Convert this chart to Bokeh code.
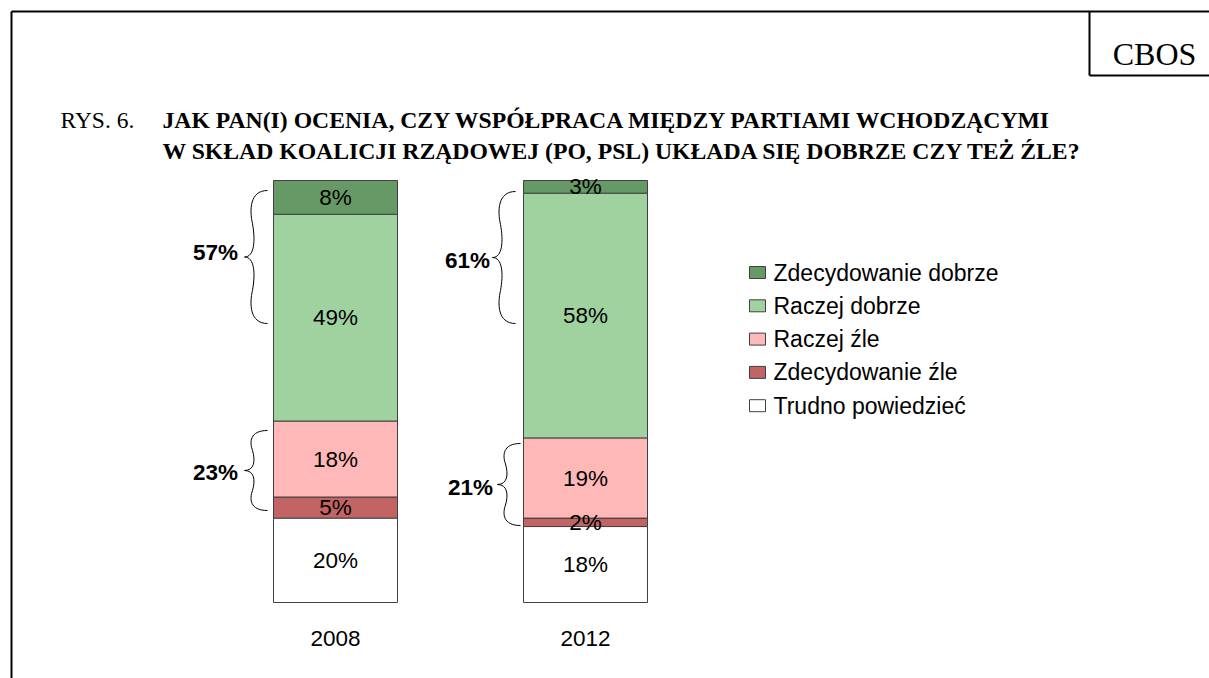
from bokeh.plotting import figure
from bokeh.models import Range1d, ColumnDataSource
from bokeh.embed import file_html
from bokeh.resources import INLINE
from bokeh.core.properties import value

# ---------------- data ----------------
years = ["2008", "2012"]
categories = ["Zdecydowanie dobrze", "Raczej dobrze", "Raczej źle",
              "Zdecydowanie źle", "Trudno powiedzieć"]
zdecydowanie_dobrze = [8, 3]
raczej_dobrze = [49, 58]
raczej_zle = [18, 19]
zdecydowanie_zle = [5, 2]
trudno_powiedziec = [20, 18]
colors = ["#669966", "#A0D2A0", "#FFB8B8", "#C26464", "#FFFFFF"]

title_prefix = "RYS. 6."
title_lines = ["JAK PAN(I) OCENIA, CZY WSPÓŁPRACA MIĘDZY PARTIAMI WCHODZĄCYMI",
               "W SKŁAD KOALICJI RZĄDOWEJ (PO, PSL) UKŁADA SIĘ DOBRZE CZY TEŻ ŹLE?"]
source_label = "CBOS"

# ---------------- layout helpers (page pixels -> data) ----------------
W, H = 1209, 678
OX, OY = 0, 0
PX_PER_PCT = 4.22
BASE_Y = 602.0


def dy(Y):
    return (BASE_Y - Y) / PX_PER_PCT


bar_x = [335, 585]
bar_w = 124

SANS = value("Liberation Sans")
SERIF = value("Liberation Serif")

p = figure(width=W, height=H, x_range=Range1d(OX, OX + W),
           y_range=Range1d(dy(OY + H), dy(OY)),
           output_backend="svg", toolbar_location=None, min_border=0,
           x_axis_location=None, y_axis_location=None,
           outline_line_color=None, background_fill_color="white")
p.xgrid.visible = False
p.ygrid.visible = False

# ---------------- stacked bars ----------------
keys = ["tp", "zz", "rz", "rd", "zd"]
series = [trudno_powiedziec, zdecydowanie_zle, raczej_zle, raczej_dobrze, zdecydowanie_dobrze]
src = ColumnDataSource(dict(x=bar_x, tp=trudno_powiedziec, zz=zdecydowanie_zle,
                            rz=raczej_zle, rd=raczej_dobrze, zd=zdecydowanie_dobrze))
stack_colors = [colors[4], colors[3], colors[2], colors[1], colors[0]]
p.vbar_stack(keys, x="x", width=bar_w, fill_color=stack_colors,
             line_color="#404040", line_width=1, source=src)

# segment labels
lx, ly, lt = [], [], []
for i in range(len(years)):
    cum = 0
    for s in series:
        v = s[i]
        lx.append(bar_x[i])
        ly.append(cum + v / 2)
        lt.append(f"{v}%")
        cum += v
p.text(x=lx, y=ly, text=lt, text_font=SANS, text_font_size="22.5px",
       text_align="center", text_baseline="middle", text_color="black")

# year labels
p.text(x=bar_x, y=[dy(638)] * 2, text=years, text_font=SANS, text_font_size="22.5px",
       text_align="center", text_baseline="middle", text_color="black")

# ---------------- braces ----------------
def brace(xe, xs, xt, yt, yb):
    ym = (yt + yb) / 2
    h = ym - yt
    segs = [
        ((xe, yt), (xs - 3, yt), (xs - 3, yt + 0.3 * h), (xs, yt + 0.5 * h)),
        ((xs, yt + 0.5 * h), (xs + 3, yt + 0.75 * h), (xs + 2, ym), (xt, ym)),
        ((xt, ym), (xs + 2, ym), (xs + 3, ym + 0.25 * h), (xs, ym + 0.5 * h)),
        ((xs, ym + 0.5 * h), (xs - 3, ym + 0.7 * h), (xs - 3, yb), (xe, yb)),
    ]
    d = dict(x0=[], y0=[], cx0=[], cy0=[], cx1=[], cy1=[], x1=[], y1=[])
    for a, b, c, e in segs:
        d["x0"].append(a[0]); d["y0"].append(dy(a[1]))
        d["cx0"].append(b[0]); d["cy0"].append(dy(b[1]))
        d["cx1"].append(c[0]); d["cy1"].append(dy(c[1]))
        d["x1"].append(e[0]); d["y1"].append(dy(e[1]))
    p.bezier(source=ColumnDataSource(d), x0="x0", y0="y0", x1="x1", y1="y1",
             cx0="cx0", cy0="cy0", cx1="cx1", cy1="cy1",
             line_color="black", line_width=1)


good = [zdecydowanie_dobrze[i] + raczej_dobrze[i] for i in range(2)]
bad = [raczej_zle[i] + zdecydowanie_zle[i] for i in range(2)]

brace(267, 252, 244, 190, 323)
brace(267, 252, 244, 430, 510)
brace(515, 500, 492, 191, 323)
brace(520, 505, 497, 443, 525)

p.text(x=[215, 467], y=[dy(252), dy(260)], text=[f"{g}%" for g in good],
       text_font=SANS, text_font_size="22.5px", text_font_style="bold",
       text_align="center", text_baseline="middle", text_color="black")
p.text(x=[215, 470], y=[dy(472), dy(487)], text=[f"{b}%" for b in bad],
       text_font=SANS, text_font_size="22.5px", text_font_style="bold",
       text_align="center", text_baseline="middle", text_color="black")

# ---------------- legend ----------------
leg_y = [dy(272 + 33.3 * i) for i in range(len(categories))]
p.rect(x=[757] * 5, y=leg_y, width=16, height=12, width_units="screen",
       height_units="screen", fill_color=colors, line_color="#404040", line_width=1)
p.text(x=[773] * 5, y=leg_y, text=categories, text_font=SANS, text_font_size="23px",
       text_align="left", text_baseline="middle", text_color="black")

# ---------------- title & frame ----------------
p.text(x=[60], y=[dy(119.5)], text=[title_prefix], text_font=SERIF,
       text_font_size="23.5px", text_align="left", text_baseline="alphabetic",
       text_color="black")
p.text(x=[162, 162], y=[dy(119.5), dy(150)], text=title_lines, text_font=SERIF,
       text_font_size="23.7px", text_font_style="bold", text_align="left",
       text_baseline="alphabetic", text_color="black")
p.text(x=[1154], y=[dy(53)], text=[source_label], text_font=SERIF,
       text_font_size="32px", text_align="center", text_baseline="alphabetic",
       text_color="black")

p.segment(x0=[11, 11, 1089, 1089], y0=[dy(11), dy(11), dy(11), dy(75)],
          x1=[OX + W, 11, 1089, OX + W], y1=[dy(11), dy(OY + H), dy(75), dy(75)],
          line_color="black", line_width=2)

open("out.html", "w").write(file_html(p, INLINE))
